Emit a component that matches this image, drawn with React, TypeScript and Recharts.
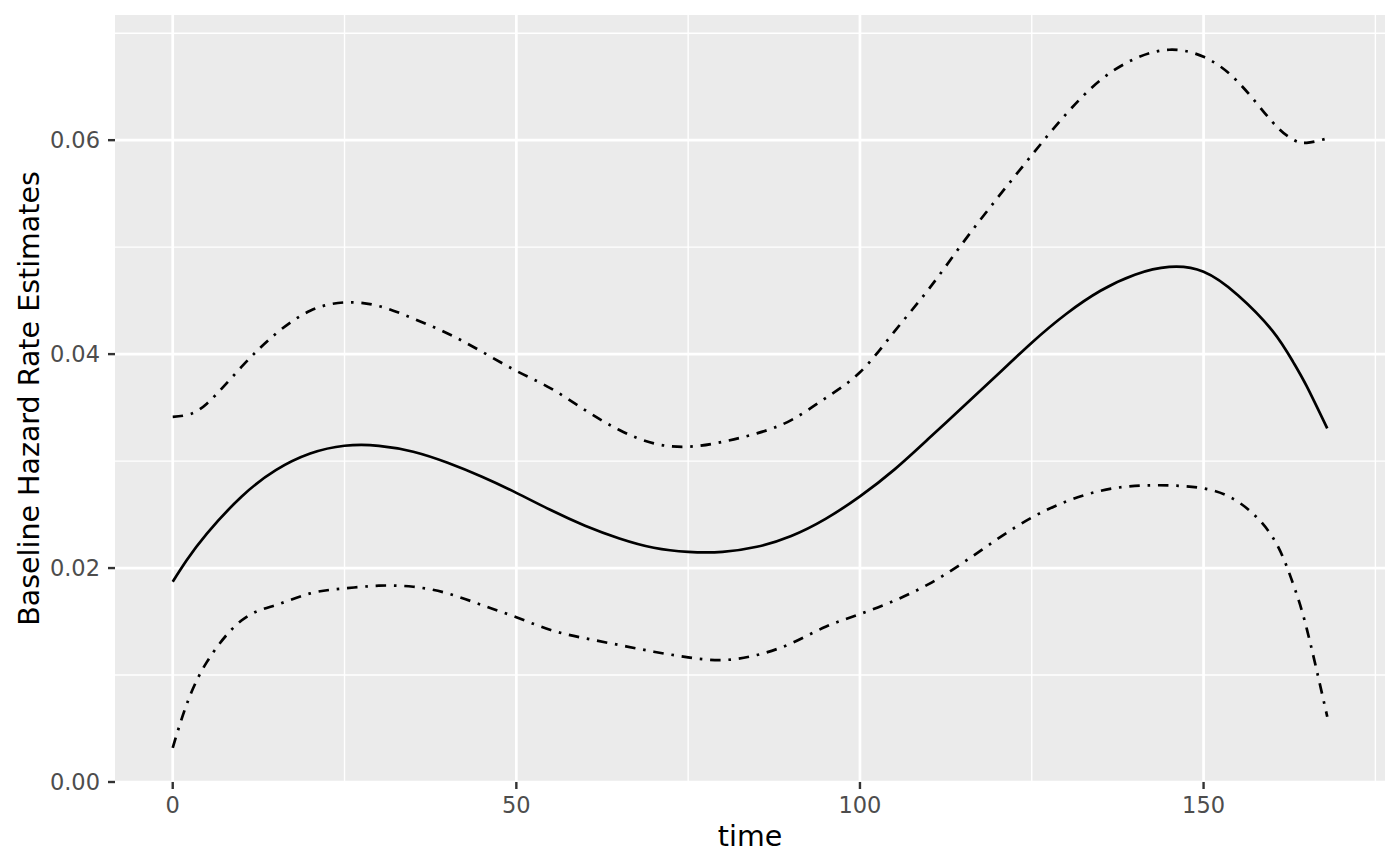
import { LineChart, Line, XAxis, YAxis, CartesianGrid, Label } from 'recharts';

const times = [0, 2, 5, 10, 15, 20, 25, 30, 35, 40, 45, 50, 55, 60, 65, 70, 75, 80, 85, 90, 95, 100, 105, 110, 115, 120, 125, 130, 135, 140, 145, 150, 155, 160, 163, 165, 168];

const hazard = [0.01872, 0.0207, 0.02324, 0.02667, 0.02915, 0.0307, 0.03143, 0.03143, 0.03087, 0.02984, 0.02853, 0.02703, 0.02542, 0.02396, 0.02277, 0.0219, 0.02152, 0.02152, 0.02199, 0.023, 0.0246, 0.0267, 0.0292, 0.0321, 0.03507, 0.03807, 0.04107, 0.04375, 0.04592, 0.04742, 0.04815, 0.0477, 0.04551, 0.0422, 0.0393, 0.037, 0.03305];

const upper = [0.03414, 0.0343, 0.03539, 0.0388, 0.0419, 0.04405, 0.04483, 0.04449, 0.04333, 0.04193, 0.04022, 0.03843, 0.0368, 0.03477, 0.0329, 0.03165, 0.03134, 0.0318, 0.03259, 0.03383, 0.03589, 0.0383, 0.0421, 0.04607, 0.05042, 0.05459, 0.0586, 0.06244, 0.06561, 0.06761, 0.06845, 0.06779, 0.06545, 0.06171, 0.06006, 0.05975, 0.06016];

const lower = [0.0032, 0.0072, 0.01125, 0.0151, 0.01654, 0.01763, 0.0181, 0.01835, 0.01825, 0.01763, 0.01654, 0.0154, 0.01421, 0.01343, 0.0128, 0.01218, 0.01165, 0.0114, 0.01187, 0.01296, 0.01451, 0.0157, 0.01695, 0.0185, 0.0205, 0.02271, 0.02472, 0.02622, 0.02722, 0.02768, 0.02772, 0.02744, 0.0262, 0.02293, 0.01857, 0.01436, 0.0061];

const xTicks = [0, 50, 100, 150];
const xMinor = [25, 75, 125, 175];
const yTicks = [0, 0.02, 0.04, 0.06];
const yMinor = [0.01, 0.03, 0.05, 0.07];

const data = times.map((t, i) => ({
  time: t,
  hazard: hazard[i],
  upper: upper[i],
  lower: lower[i],
}));

const font = '"DejaVu Sans", sans-serif';
const tickStyle = { fontSize: 22.5, fill: '#4D4D4D', fontFamily: font };
const dotdash = '10.5 7.8 2.6 7.8';
const lineWidth = 2.7;

export default function App() {
  return (
    <div style={{ position: 'absolute', left: 0, top: 0, width: 1400, height: 866, background: '#fff' }}>
      <LineChart width={1400} height={866} data={data} margin={{ top: 15, right: 15, left: 0, bottom: 0 }}>
        <CartesianGrid
          fill="#EBEBEB"
          stroke="#FFFFFF"
          strokeWidth={1.4}
          horizontalValues={yMinor}
          verticalValues={xMinor}
        />
        <CartesianGrid
          stroke="#FFFFFF"
          strokeWidth={2.7}
          horizontalValues={yTicks}
          verticalValues={xTicks}
        />
        <XAxis
          dataKey="time"
          type="number"
          domain={[-8.4, 176.4]}
          ticks={xTicks}
          allowDataOverflow
          height={84}
          axisLine={false}
          tickLine={{ stroke: '#333333', strokeWidth: 2.4 }}
          tickSize={7}
          tickMargin={8}
          tick={tickStyle}
        >
          <Label
            value="time"
            position="insideBottom"
            offset={20}
            style={{ fontSize: 28.5, fill: '#000', fontFamily: font }}
          />
        </XAxis>
        <YAxis
          type="number"
          domain={[0, 0.0717]}
          ticks={yTicks}
          allowDataOverflow
          width={115}
          axisLine={false}
          tickLine={{ stroke: '#333333', strokeWidth: 2.4 }}
          tickSize={7}
          tickMargin={8}
          tick={tickStyle}
          tickFormatter={(v: number) => v.toFixed(2)}
        >
          <Label
            value="Baseline Hazard Rate Estimates"
            position="insideLeft"
            angle={-90}
            offset={29}
            style={{ fontSize: 28.5, fill: '#000', fontFamily: font, textAnchor: 'middle' }}
          />
        </YAxis>
        <Line
          type="natural"
          dataKey="upper"
          stroke="#000"
          strokeWidth={lineWidth}
          strokeDasharray={dotdash}
          dot={false}
          activeDot={false}
          isAnimationActive={false}
        />
        <Line
          type="natural"
          dataKey="hazard"
          stroke="#000"
          strokeWidth={lineWidth}
          dot={false}
          activeDot={false}
          isAnimationActive={false}
        />
        <Line
          type="natural"
          dataKey="lower"
          stroke="#000"
          strokeWidth={lineWidth}
          strokeDasharray={dotdash}
          dot={false}
          activeDot={false}
          isAnimationActive={false}
        />
      </LineChart>
    </div>
  );
}
